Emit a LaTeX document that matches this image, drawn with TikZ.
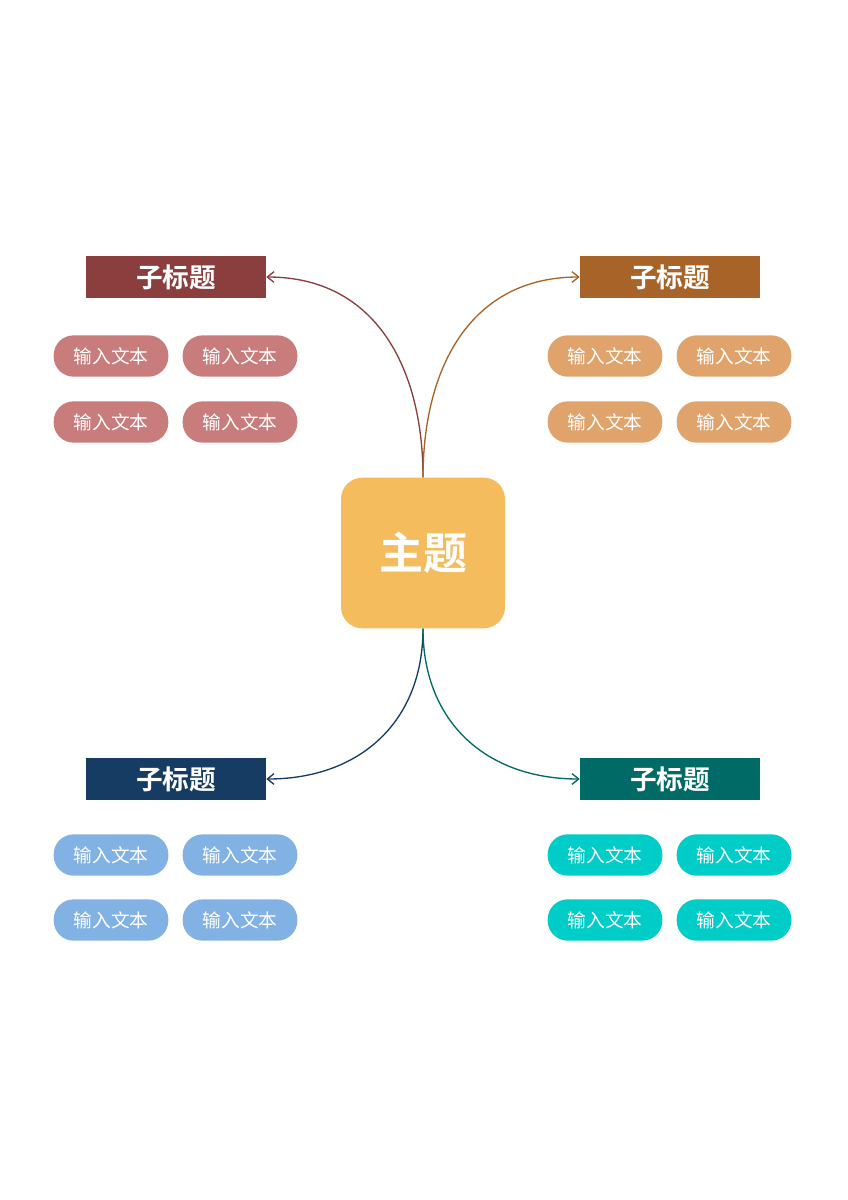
\documentclass[tikz,border=0pt]{standalone}
\usepackage{fontspec}
\newfontfamily\cjk{Noto Sans CJK SC}[BoldFont={Noto Sans CJK SC Bold}]
\usetikzlibrary{arrows.meta}
\definecolor{mainc}{HTML}{F5BC5E}
\definecolor{redc}{HTML}{8B3E3E}
\definecolor{brownc}{HTML}{A86428}
\definecolor{navyc}{HTML}{173C63}
\definecolor{tealc}{HTML}{006B66}
\definecolor{pinkc}{HTML}{C87C7C}
\definecolor{orangec}{HTML}{DFA36B}
\definecolor{bluec}{HTML}{82B2E3}
\definecolor{cyanc}{HTML}{00CDC8}
\tikzset{
  sub/.style={shape=rectangle, minimum width=135pt, minimum height=31.5pt, inner sep=0pt, text=white, font=\cjk\bfseries\fontsize{20}{20}\selectfont},
  pill/.style={shape=rectangle, rounded corners=15pt, minimum width=86pt, minimum height=31pt, inner sep=0pt, text=white, font=\cjk\fontsize{14}{14}\selectfont},
  link/.style={line width=1pt, -{Straight Barb[length=5pt,width=8pt]}}
}
\begin{document}
\begin{tikzpicture}[x=0.75pt, y=-0.75pt]
\useasboundingbox (0,0) rectangle (848,1200);
\node[fill=mainc, rounded corners=16pt, minimum width=123pt, minimum height=113pt, text=white, font=\cjk\bfseries\fontsize{33}{33}\selectfont] (M) at (423,553) {主题};

\node[sub, fill=redc] (A) at (176,277) {子标题};
\node[sub, fill=brownc] (B) at (670,277) {子标题};
\node[sub, fill=navyc] (C) at (176,779) {子标题};
\node[sub, fill=tealc] (D) at (670,779) {子标题};

\node[pill, fill=pinkc] (A1) at (111,356) {输入文本};
\node[pill, fill=pinkc] (A2) at (240,356) {输入文本};
\node[pill, fill=pinkc] (A3) at (111,422) {输入文本};
\node[pill, fill=pinkc] (A4) at (240,422) {输入文本};
\node[pill, fill=orangec] (B1) at (605,356) {输入文本};
\node[pill, fill=orangec] (B2) at (734,356) {输入文本};
\node[pill, fill=orangec] (B3) at (605,422) {输入文本};
\node[pill, fill=orangec] (B4) at (734,422) {输入文本};
\node[pill, fill=bluec] (C1) at (111,855) {输入文本};
\node[pill, fill=bluec] (C2) at (240,855) {输入文本};
\node[pill, fill=bluec] (C3) at (111,920) {输入文本};
\node[pill, fill=bluec] (C4) at (240,920) {输入文本};
\node[pill, fill=cyanc] (D1) at (605,855) {输入文本};
\node[pill, fill=cyanc] (D2) at (734,855) {输入文本};
\node[pill, fill=cyanc] (D3) at (605,920) {输入文本};
\node[pill, fill=cyanc] (D4) at (734,920) {输入文本};

\draw[link, redc] (M.north) to[out=90, in=0, looseness=1.1] (A.east);
\draw[link, brownc] (M.north) to[out=90, in=180, looseness=1.1] (B.west);
\draw[link, navyc] (M.south) to[out=-90, in=0, looseness=1.1] (C.east);
\draw[link, tealc] (M.south) to[out=-90, in=180, looseness=1.1] (D.west);
\end{tikzpicture}
\end{document}
